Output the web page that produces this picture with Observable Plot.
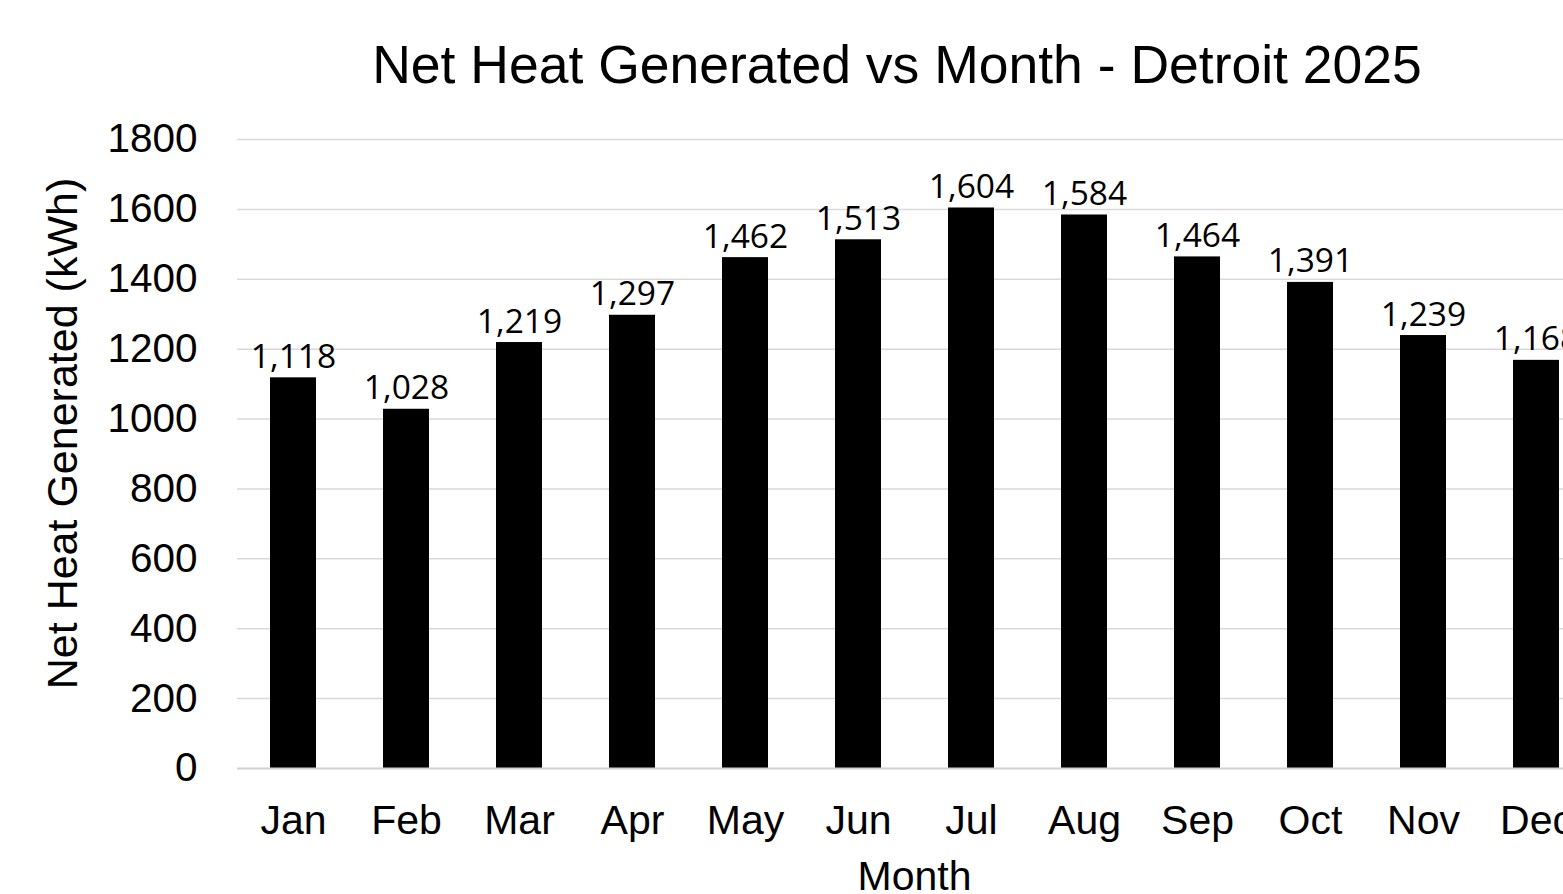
<!DOCTYPE html>
<html>
<head>
<meta charset="utf-8">
<script src="https://cdn.jsdelivr.net/npm/d3@7"></script>
<script src="https://cdn.jsdelivr.net/npm/@observablehq/plot@0.6"></script>
<style>
  html, body { margin: 0; padding: 0; background: #fff; overflow: hidden; }
  #chart svg { max-width: none !important; display: block; }
</style>
</head>
<body>
<div id="chart"></div>
<script>
const months = ["Jan","Feb","Mar","Apr","May","Jun","Jul","Aug","Sep","Oct","Nov","Dec"];
const heat = [1118, 1028, 1219, 1297, 1462, 1513, 1604, 1584, 1464, 1391, 1239, 1168];
const yTicks = [0, 200, 400, 600, 800, 1000, 1200, 1400, 1600, 1800];
const titleText = "Net Heat Generated vs Month - Detroit 2025";
const yLabelText = "Net Heat Generated (kWh)";
const xLabelText = "Month";

const data = months.map((m, i) => ({month: m, value: heat[i]}));
const fmt = d3.format(",");
const axisFont = "Liberation Sans, Arial, sans-serif";

const chart = Plot.plot({
  width: 1593,
  height: 894,
  marginLeft: 237,
  marginRight: 0,
  marginTop: 139,
  marginBottom: 126,
  style: {fontFamily: axisFont, background: "#fff", color: "#000", overflow: "visible"},
  x: {domain: months, paddingInner: 0.59, paddingOuter: 0.295, label: null},
  y: {domain: [0, 1800], ticks: yTicks, label: null},
  marks: [
    Plot.gridY(yTicks.filter(d => d > 0), {stroke: "#d9d9d9", strokeOpacity: 1, strokeWidth: 1.5}),
    Plot.barY(data, {x: "month", y: "value", fill: "#000"}),
    Plot.ruleY([0], {stroke: "#d0d0d0", strokeWidth: 2}),
    Plot.axisY({ticks: yTicks, tickFormat: d3.format("d"), tickSize: 0, tickPadding: 40, fontSize: 40.5, label: null, fontFamily: axisFont}),
    Plot.axisX({tickSize: 0, tickPadding: 36, fontSize: 41, label: null, fontFamily: axisFont}),
    Plot.text(data, {x: "month", y: "value", text: d => fmt(d.value), lineAnchor: "bottom", dy: -10,
      fontSize: 33.5, fontFamily: "Open Sans, Noto Sans, sans-serif", fill: "#000"}),
    Plot.text([titleText], {frameAnchor: "top", textAnchor: "middle", dx: -18.5, dy: -57, lineAnchor: "bottom",
      fontSize: 53.5, fontFamily: axisFont, fill: "#000"}),
    Plot.text([yLabelText], {frameAnchor: "left", textAnchor: "middle", dx: -174, dy: -20.5, rotate: -90, lineAnchor: "middle",
      fontSize: 43, fontFamily: axisFont, fill: "#000"}),
    Plot.text([xLabelText], {frameAnchor: "bottom", textAnchor: "middle", dx: -1, dy: 121, lineAnchor: "bottom",
      fontSize: 41, fontFamily: axisFont, fill: "#000"})
  ]
});
document.getElementById("chart").appendChild(chart);
</script>
</body>
</html>
